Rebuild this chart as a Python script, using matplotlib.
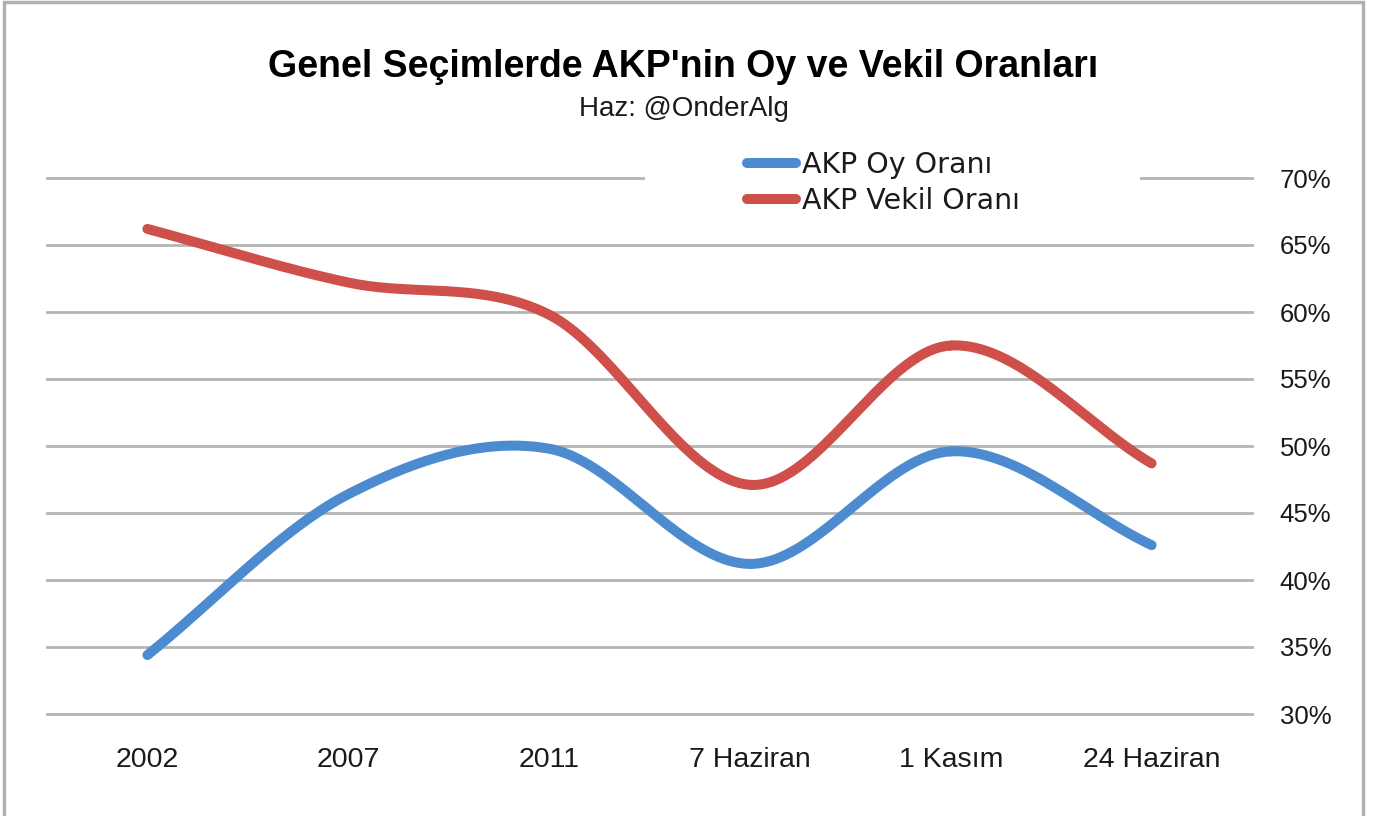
import matplotlib
matplotlib.use("Agg")
import matplotlib.pyplot as plt
import numpy as np
from matplotlib import font_manager
from matplotlib.patches import Rectangle
from matplotlib.ticker import FuncFormatter

categories = ["2002", "2007", "2011", "7 Haziran", "1 Kasım", "24 Haziran"]
oy_orani = [34.4, 46.4, 49.8, 41.2, 49.6, 42.6]
vekil_orani = [66.2, 62.2, 59.8, 47.1, 57.5, 48.7]

BLUE = "#4d8bd0"
RED = "#cf504b"
GRID = "#b4b4b4"

plt.rcParams["font.family"] = ["Liberation Sans", "DejaVu Sans"]

installed = {f.name for f in font_manager.fontManager.ttflist}
if "Liberation Sans Narrow" in installed:
    tick_font = ["Liberation Sans Narrow", "Liberation Sans"]
    x_size, y_size = 25, 22
else:
    tick_font = ["Liberation Sans", "DejaVu Sans"]
    x_size, y_size = 20.5, 18.5


def smooth(values, steps=40):
    # Catmull-Rom curve through the points, like the spreadsheet's smoothed line
    y = np.asarray(values, dtype=float)
    x = np.arange(len(y), dtype=float)
    px = np.concatenate([[2 * x[0] - x[1]], x, [2 * x[-1] - x[-2]]])
    py = np.concatenate([[2 * y[0] - y[1]], y, [2 * y[-1] - y[-2]]])
    xs, ys = [], []
    t = np.linspace(0, 1, steps)
    for i in range(1, len(px) - 2):
        for p, out in ((px, xs), (py, ys)):
            p0, p1, p2, p3 = p[i - 1], p[i], p[i + 1], p[i + 2]
            out.append(0.5 * (2 * p1 + (-p0 + p2) * t
                              + (2 * p0 - 5 * p1 + 4 * p2 - p3) * t ** 2
                              + (-p0 + 3 * p1 - 3 * p2 + p3) * t ** 3))
    return np.concatenate(xs), np.concatenate(ys)


fig = plt.figure(figsize=(13.85, 8.16), dpi=100)
ax = fig.add_axes([47 / 1385, 102 / 816, 1205 / 1385, 536 / 816])

for values, color, label in ((oy_orani, BLUE, "AKP Oy Oranı"), (vekil_orani, RED, "AKP Vekil Oranı")):
    sx, sy = smooth(values)
    ax.plot(sx, sy, color=color, linewidth=7.2, solid_capstyle="round", label=label, zorder=3)

ax.set_xlim(-0.5, len(categories) - 0.5)
ax.set_ylim(30, 70)
ax.set_yticks(range(30, 71, 5))
ax.yaxis.set_major_formatter(FuncFormatter(lambda v, _: f"{v:.0f}%"))
ax.yaxis.tick_right()
ax.set_xticks(range(len(categories)))
ax.set_xticklabels(categories)
ax.tick_params(axis="both", length=0, colors="#1a1a1a")
ax.tick_params(axis="y", pad=20)
ax.tick_params(axis="x", pad=24)
for lab in ax.get_xticklabels():
    lab.set_family(tick_font)
    lab.set_fontsize(x_size)
for lab in ax.get_yticklabels():
    lab.set_family(tick_font)
    lab.set_fontsize(y_size)
ax.grid(axis="y", color=GRID, linewidth=2)
for gl in ax.get_ygridlines():
    gl.set_clip_on(False)
ax.set_axisbelow(True)
for spine in ax.spines.values():
    spine.set_visible(False)

# white strip behind the legend hides part of the top gridline
ax.add_patch(Rectangle((0.496, 0.985), 0.411, 0.03, transform=ax.transAxes,
                       facecolor="white", edgecolor="none", clip_on=False, zorder=2))
leg = ax.legend(loc="upper left", bbox_to_anchor=(0.5805, 1.05), frameon=False,
                borderpad=0, borderaxespad=0, handlelength=1.75, handletextpad=0.2,
                labelspacing=0.28, prop={"family": ["DejaVu Sans"], "size": 20.5})
for line in leg.get_lines():
    line.set_linewidth(7.2)
    line.set_solid_capstyle("round")
for txt in leg.get_texts():
    txt.set_color("#1a1a1a")

fig.text(0.4935, 0.918, "Genel Seçimlerde AKP'nin Oy ve Vekil Oranları", ha="center", va="center",
         fontsize=27, fontweight="bold", color="black")
fig.text(0.4935, 0.866, "Haz: @OnderAlg", ha="center", va="center", fontsize=20, color="#1a1a1a")

# outer frame of the screenshot
fig.add_artist(Rectangle((4 / 1385, -0.01), 1359 / 1385, 1.008, transform=fig.transFigure,
                         facecolor="none", edgecolor="#b0b0b0", linewidth=2.5))

fig.savefig("out.png", dpi=100)
